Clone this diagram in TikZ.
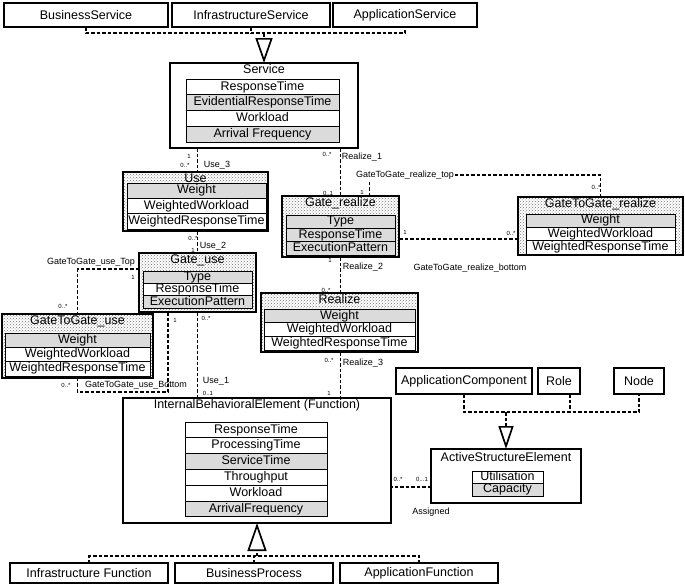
\documentclass[tikz,border=0pt]{standalone}
\usepackage{fontspec}
\setmainfont{Liberation Sans}
\usetikzlibrary{arrows.meta, positioning, patterns}

\begin{document}
\begin{tikzpicture}[x=1pt, y=-1pt,
    cls/.style={draw, line width=1.4pt, fill=white, inner sep=0pt, outer sep=0pt,
                anchor=north west, font=\fontsize{12.5}{13}\selectfont},
    gcls/.style={cls, line width=2.2pt, pattern=crosshatch dots, pattern color=black!55},
    ttl/.style={anchor=north, inner sep=1.5pt, font=\fontsize{12.5}{13}\selectfont},
    att/.style={draw, line width=0.8pt, fill=white, inner sep=0pt, outer sep=0pt,
                text height=9pt, text depth=2.7pt, font=\fontsize{12.5}{13}\selectfont},
    gatt/.style={att, fill=black!14},
    lbl/.style={font=\fontsize{9}{10}\selectfont, inner sep=1pt},
    mlt/.style={font=\fontsize{6}{6}\selectfont, inner sep=0.5pt},
    dep/.style={line width=1.7pt, dash pattern=on 3.5pt off 2pt},
    gen/.style 2 args={-{Triangle[open, length=#1, width=#2, line width=1.7pt]}},
]
\fill[white] (0,0) rectangle (685,584);
\useasboundingbox (0,0) rectangle (685,584);

% === TOP: specialisations of Service ===
\node[cls, minimum width=164pt, minimum height=24pt] (bsv) at (4,3) {BusinessService};
\node[cls, minimum width=158pt, minimum height=24pt] (isv) at (172,3) {InfrastructureService};
\node[cls, minimum width=144pt, minimum height=24pt] (asv) at (333,3) {ApplicationService};

% === Service ===
\node[cls, line width=1.8pt, minimum width=188pt, minimum height=85pt] (svc) at (170,63) {};
\node[ttl] (svcT) at (svc.north) {Service};
\node[att, minimum width=153pt, minimum height=15.75pt, anchor=north west] (svc1) at (186,79) {ResponseTime};
\node[gatt, minimum width=153pt, minimum height=15.75pt, below=0pt of svc1] (svc2) {EvidentialResponseTime};
\node[att, minimum width=153pt, minimum height=15.75pt, below=0pt of svc2] (svc3) {Workload};
\node[gatt, minimum width=153pt, minimum height=15.75pt, below=0pt of svc3] (svc4) {Arrival Frequency};

\coordinate (gsvc) at ([yshift=-6pt]svc.north |- bsv.south);
\draw[dep] (bsv.south) |- (gsvc) -| (asv.south);
\draw[dep] (isv.south) -- (isv.south |- gsvc);
\draw[dep, gen={25pt}{17pt}] (gsvc) -- (svc.north);

% === Use ===
\node[gcls, minimum width=145pt, minimum height=59pt] (use) at (123,172) {};
\node[ttl] (useT) at (use.north) {Use};
\node[gatt, minimum width=139pt, minimum height=15.3pt, anchor=north west] (use1) at (127,183) {Weight};
\node[att, minimum width=139pt, minimum height=15.3pt, below=0pt of use1] (use2) {WeightedWorkload};
\node[att, minimum width=139pt, minimum height=15.3pt, below=0pt of use2] (use3) {WeightedResponseTime};

% === Gate_use ===
\node[gcls, minimum width=117pt, minimum height=59pt] (gu) at (139,253) {};
\node[ttl] (guT) at (gu.north) {Gate\_use};
\node[gatt, minimum width=109pt, minimum height=12.4pt, anchor=north west] (gu1) at (143,271) {Type};
\node[att, minimum width=109pt, minimum height=12.4pt, below=0pt of gu1] (gu2) {ResponseTime};
\node[gatt, minimum width=109pt, minimum height=12.4pt, below=0pt of gu2] (gu3) {ExecutionPattern};

% === GateToGate_use ===
\node[gcls, minimum width=151pt, minimum height=64pt] (g2gu) at (2,314) {};
\node[ttl] (g2guT) at (g2gu.north) {GateToGate\_use};
\node[gatt, minimum width=145pt, minimum height=14.3pt, anchor=north west] (g2gu1) at (5,333) {Weight};
\node[att, minimum width=145pt, minimum height=14.3pt, below=0pt of g2gu1] (g2gu2) {WeightedWorkload};
\node[att, minimum width=145pt, minimum height=14.3pt, below=0pt of g2gu2] (g2gu3) {WeightedResponseTime};

% === Gate_realize ===
\node[gcls, minimum width=117pt, minimum height=61pt] (gr) at (282,196) {};
\node[ttl] (grT) at (gr.north) {Gate\_realize};
\node[gatt, minimum width=109pt, minimum height=13.3pt, anchor=north west] (gr1) at (286,215) {Type};
\node[gatt, minimum width=109pt, minimum height=13.3pt, below=0pt of gr1] (gr2) {ResponseTime};
\node[gatt, minimum width=109pt, minimum height=13.3pt, below=0pt of gr2] (gr3) {ExecutionPattern};

% === GateToGate_realize ===
\node[gcls, minimum width=165pt, minimum height=58pt] (g2gr) at (518,197) {};
\node[ttl] (g2grT) at (g2gr.north) {GateToGate\_realize};
\node[gatt, minimum width=149pt, minimum height=13.3pt, anchor=north west] (g2gr1) at (526,214) {Weight};
\node[att, minimum width=149pt, minimum height=13.3pt, below=0pt of g2gr1] (g2gr2) {WeightedWorkload};
\node[att, minimum width=149pt, minimum height=13.3pt, below=0pt of g2gr2] (g2gr3) {WeightedResponseTime};

% === Realize ===
\node[gcls, minimum width=157pt, minimum height=59pt] (rlz) at (261,293) {};
\node[ttl] (rlzT) at (rlz.north) {Realize};
\node[gatt, minimum width=151pt, minimum height=13.7pt, anchor=north west] (rlz1) at (264,309) {Weight};
\node[att, minimum width=151pt, minimum height=13.7pt, below=0pt of rlz1] (rlz2) {WeightedWorkload};
\node[att, minimum width=151pt, minimum height=13.7pt, below=0pt of rlz2] (rlz3) {WeightedResponseTime};

% === InternalBehavioralElement ===
\node[cls, line width=1.8pt, minimum width=268pt, minimum height=125pt] (ibe) at (123,398) {};
\node[ttl] (ibeT) at (ibe.north) {InternalBehavioralElement (Function)};
\node[att, minimum width=142pt, minimum height=15.8pt, anchor=north west] (ibe1) at (185,422) {ResponseTime};
\node[att, minimum width=142pt, minimum height=15.8pt, below=0pt of ibe1] (ibe2) {ProcessingTime};
\node[gatt, minimum width=142pt, minimum height=15.8pt, below=0pt of ibe2] (ibe3) {ServiceTime};
\node[att, minimum width=142pt, minimum height=15.8pt, below=0pt of ibe3] (ibe4) {Throughput};
\node[att, minimum width=142pt, minimum height=15.8pt, below=0pt of ibe4] (ibe5) {Workload};
\node[gatt, minimum width=142pt, minimum height=15.8pt, below=0pt of ibe5] (ibe6) {ArrivalFrequency};

% === BOTTOM: specialisations of the function ===
\node[cls, minimum width=158pt, minimum height=20pt] (ifn) at (10,563) {Infrastructure Function};
\node[cls, minimum width=158pt, minimum height=20pt] (bpr) at (175,563) {BusinessProcess};
\node[cls, minimum width=158pt, minimum height=20pt] (afn) at (340,563) {ApplicationFunction};

\coordinate (gibe) at ([yshift=7pt]ibe.south |- bpr.north);
\draw[dep] (ifn.north) |- (gibe) -| (afn.north);
\draw[dep] (bpr.north) -- (bpr.north |- gibe);
\draw[dep, gen={28pt}{19pt}] (gibe) -- (ibe.south);

% === ActiveStructureElement ===
\node[cls, line width=1.8pt, minimum width=150pt, minimum height=54pt] (ase) at (431,449) {};
\node[ttl] (aseT) at ([yshift=-2pt]ase.north) {ActiveStructureElement};
\node[att, minimum width=71pt, minimum height=12.5pt, anchor=north west] (ase1) at (472,471) {Utilisation};
\node[gatt, minimum width=71pt, minimum height=12.5pt, below=0pt of ase1] (ase2) {Capacity};

\node[cls, minimum width=136pt, minimum height=26pt] (acp) at (396,368) {ApplicationComponent};
\node[cls, minimum width=42pt, minimum height=26pt] (role) at (538,368) {Role};
\node[cls, minimum width=50pt, minimum height=26pt] (nde) at (614,368) {Node};

\coordinate (gase) at ([yshift=-18pt]ase.north |- acp.south);
\draw[dep] (acp.south) |- (gase) -| (nde.south);
\draw[dep] ([xshift=11pt]role.south) -- ([xshift=11pt]role.south |- gase);
\draw[dep, gen={23pt}{15pt}] (gase) -- (ase.north);

% === associations ===
% Use_3
\draw[dep] (svc.south -| gu.north) -- (use.north -| gu.north);
\node[mlt] (mU3a) at (189,156) {1};
\node[mlt] (mU3b) at (185,165) {0..*};
\node[lbl] (lU3) at (217,165) {Use\_3};

% Use_2
\draw[dep] (use.south -| gu.north) -- (gu.north);
\node[mlt] (mU2a) at (193,238) {0..*};
\node[mlt] (mU2b) at (193,250) {1};
\node[lbl] (lU2) at (213,246) {Use\_2};

% Use_1
\draw[dep] (gu.south) -- (ibe.north -| gu.south);
\node[mlt] (mU1a) at (206,318) {0..*};
\node[mlt] (mU1b) at (208,393) {0..1};
\node[lbl] (lU1) at (216,381) {Use\_1};

% GateToGate_use_Top
\draw[dep] ([yshift=-16pt]gu.north west) -| (g2gu.north);
\node[lbl] (lGuTop) at (91,262) {GateToGate\_use\_Top};
\node[mlt] (mGuTa) at (133,277) {1};
\node[mlt] (mGuTb) at (63,306) {0..*};

% GateToGate_use_Bottom
\coordinate (guBot) at (g2gu.south |- 0,392);
\draw[dep] ([xshift=-29.5pt]gu.south) |- (guBot) -- (g2gu.south);
\node[lbl] (lGuBot) at (136,385) {GateToGate\_use\_Bottom};
\node[mlt] (mGuBa) at (175,320) {1};
\node[mlt] (mGuBb) at (66,385) {0..*};

% Realize_1
\draw[dep] (svc.south -| gr.north) -- (gr.north);
\node[mlt] (mR1a) at (327,154) {0..*};
\node[mlt] (mR1b) at (328,193) {0..1};
\node[lbl] (lR1) at (362,157) {Realize\_1};

% Realize_2
\draw[dep] (gr.south) -- (rlz.north -| gr.south);
\node[mlt] (mR2a) at (330,260) {1};
\node[mlt] (mR2b) at (326,290) {0..*};
\node[lbl] (lR2) at (363,267) {Realize\_2};

% Realize_3
\draw[dep] (rlz.south -| gr.south) -- (ibe.north -| gr.south);
\node[mlt] (mR3a) at (329,360) {0..*};
\node[mlt] (mR3b) at (329,393) {1};
\node[lbl] (lR3) at (363,363) {Realize\_3};

% GateToGate_realize_top
\node[lbl] (lGrTop) at (405,175) {GateToGate\_realize\_top};
\draw[dep] ([xshift=29pt]gr.north) -- ([xshift=29pt]gr.north |- lGrTop.south);
\draw[dep] (lGrTop.east) -| (g2gr.north);
\node[mlt] (mGrTa) at (362,192) {1};
\node[mlt] (mGrTb) at (596,187) {0..*};

% GateToGate_realize_bottom
\draw[dep] ([yshift=-12.5pt]gr.east) -- ([yshift=-12.5pt]gr.east -| g2gr.west);
\node[lbl] (lGrBot) at (470,268) {GateToGate\_realize\_bottom};
\node[mlt] (mGrBa) at (405,232) {1};
\node[mlt] (mGrBb) at (511,233) {0..*};

% Assigned
\draw[dep] ([yshift=-11pt]ase.west) -- ([yshift=-11pt]ase.west -| ibe.east);
\node[mlt] (mAa) at (398,479) {0..*};
\node[mlt] (mAb) at (422,479) {0...1};
\node[lbl] (lA) at (431,512) {Assigned};

\end{tikzpicture}
\end{document}
